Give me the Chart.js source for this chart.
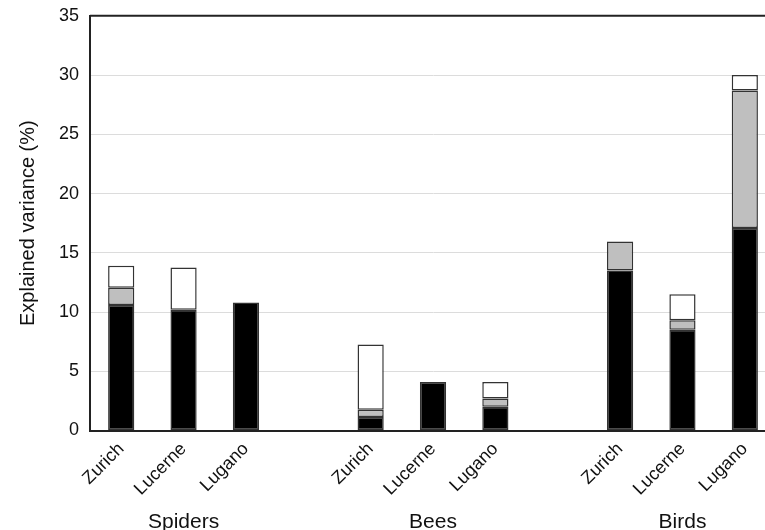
<!DOCTYPE html>
<html>
<head>
<meta charset="utf-8">
<script src="https://cdn.jsdelivr.net/npm/chart.js@4/dist/chart.umd.min.js"></script>
<style>
  html, body { margin: 0; padding: 0; background: #fff; overflow: hidden; }
  canvas { display: block; margin-top: -6px; }
</style>
</head>
<body>
<canvas id="varChart" width="780" height="551"></canvas>
<script>
// sites per group, with an empty slot between groups
const sites = ['Zurich', 'Lucerne', 'Lugano', '', 'Zurich', 'Lucerne', 'Lugano', '', 'Zurich', 'Lucerne', 'Lugano'];
const groups = ['', 'Spiders', '', '', '', 'Bees', '', '', '', 'Birds', ''];

// explained variance (%) per component, stacked
const blackPart = [10.6, 10.2, 10.8, null, 1.15, 4.1, 2.0, null, 13.5, 8.5, 17.1];
const grayPart  = [1.45, null, null, null, 0.6, null, 0.7, null, 2.45, 0.8, 11.6];
const whitePart = [1.85, 3.55, null, null, 5.5, null, 1.4, null, null, 2.2, 1.3];

const yTicks = [0, 5, 10, 15, 20, 25, 30, 35];

const font = 'Liberation Sans, Arial, Helvetica, sans-serif';

function segment(label, values, fill) {
    return {
        label: label,
        data: values,
        backgroundColor: fill,
        borderColor: '#333',
        borderWidth: 1.5,
        borderSkipped: false,
        barPercentage: 0.84,
        categoryPercentage: 0.5
    };
}

// top frame line
const frameTop = {
    id: 'frameTop',
    afterDraw(chart) {
        const { ctx, chartArea } = chart;
        ctx.save();
        ctx.strokeStyle = '#222';
        ctx.lineWidth = 2;
        ctx.beginPath();
        ctx.moveTo(chartArea.left, chartArea.top);
        ctx.lineTo(chartArea.right, chartArea.top);
        ctx.stroke();
        ctx.restore();
    }
};

const ctx = document.getElementById('varChart').getContext('2d');
new Chart(ctx, {
    type: 'bar',
    data: {
        labels: sites,
        datasets: [
            segment('black', blackPart, '#000'),
            segment('gray', grayPart, '#bfbfbf'),
            segment('white', whitePart, '#fff')
        ]
    },
    options: {
        responsive: false,
        animation: false,
        layout: { padding: { top: 3, right: 4, left: 10, bottom: 0 } },
        plugins: {
            legend: { display: false },
            tooltip: { enabled: false }
        },
        scales: {
            x: {
                stacked: true,
                weight: 0,
                grid: { display: false },
                border: { color: '#222', width: 2 },
                ticks: {
                    color: '#111',
                    font: { family: font, size: 18 },
                    minRotation: 45,
                    maxRotation: 45,
                    autoSkip: false,
                    padding: 0
                }
            },
            group: {
                type: 'category',
                labels: groups,
                position: 'bottom',
                weight: 1,
                offset: true,
                grid: { display: false, drawTicks: false },
                border: { display: false },
                ticks: {
                    color: '#111',
                    font: { family: font, size: 21 },
                    maxRotation: 0,
                    autoSkip: false,
                    padding: 10
                }
            },
            y: {
                stacked: true,
                min: 0,
                max: 35,
                afterBuildTicks: axis => { axis.ticks = yTicks.map(v => ({ value: v })); },
                grid: { color: '#dcdcdc', lineWidth: 1, drawTicks: false },
                border: { color: '#222', width: 2 },
                ticks: {
                    color: '#111',
                    font: { family: font, size: 18 },
                    padding: 11
                },
                title: {
                    display: true,
                    text: 'Explained variance (%)',
                    color: '#111',
                    font: { family: font, size: 20 },
                    padding: { top: 6, bottom: 8 }
                }
            }
        }
    },
    plugins: [frameTop]
});
</script>
</body>
</html>
